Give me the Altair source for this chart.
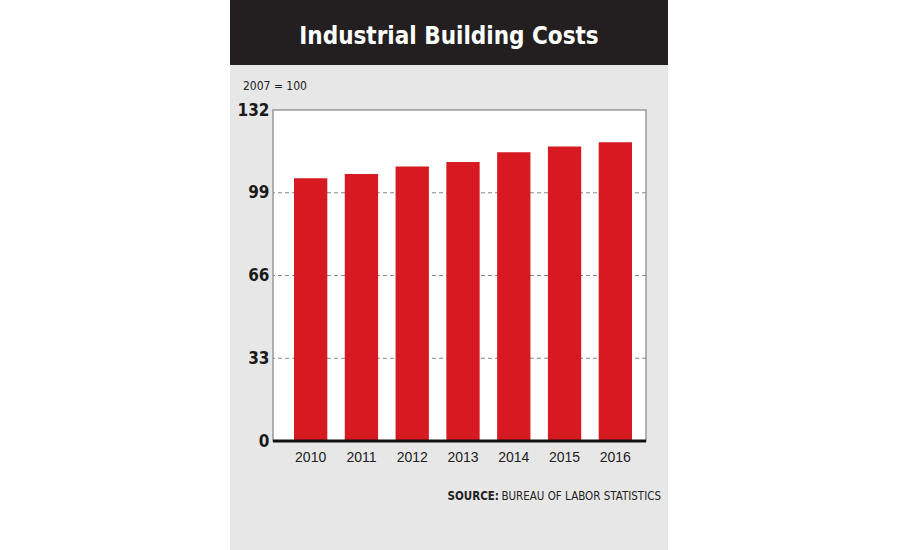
import altair as alt
import pandas as pd

years = ["2010", "2011", "2012", "2013", "2014", "2015", "2016"]
values = [104.8, 106.5, 109.5, 111.3, 115.2, 117.4, 119.1]
y_ticks = [0, 33, 66, 99, 132]
grid_vals = [33, 66, 99]

title_text = "Industrial Building Costs"
subtitle_text = "2007 = 100"
source_bold = "SOURCE:"
source_rest = "BUREAU OF LABOR STATISTICS"

COND = "DejaVu Sans Condensed"

df = pd.DataFrame({"year": years, "value": values})
gdf = pd.DataFrame({"g": grid_vals})

W, H = 373, 331
PL, PT = 273, 110

yscale = alt.Scale(domain=[0, 132], nice=False)
yaxis = alt.Axis(values=y_ticks, labelFont=COND, labelFontWeight="bold", labelFontSize=17,
                 labelColor="#1a1a1a", ticks=False, domain=False, labelPadding=4, grid=False)

grid = alt.Chart(gdf).mark_rule(color="#888888", strokeDash=[4, 3], strokeWidth=1).encode(
    y=alt.Y("g:Q", scale=yscale, axis=yaxis, title=None))

bars = alt.Chart(df).mark_bar(color="#d71a21").encode(
    x=alt.X("year:N", sort=years, title=None,
            scale=alt.Scale(range=[21, 359], paddingInner=0.344, paddingOuter=0),
            axis=alt.Axis(labelAngle=0, labelFont="Liberation Sans", labelFontSize=14,
                          labelColor="#222222", ticks=False, labelPadding=9,
                          domain=False, grid=False)),
    y=alt.Y("value:Q", title=None, scale=yscale, axis=yaxis),
)

one = pd.DataFrame({"k": [0]})
base = alt.Chart(one)

zero_line = base.mark_rule(color="#111111", strokeWidth=3).encode(
    x=alt.value(0), x2=alt.value(W), y=alt.value(H))

left_white = base.mark_rect(color="white").encode(
    x=alt.value(-PL), x2=alt.value(-43), y=alt.value(-PT), y2=alt.value(550 - PT))
right_white = base.mark_rect(color="white").encode(
    x=alt.value(395), x2=alt.value(900 - PL), y=alt.value(-PT), y2=alt.value(550 - PT))
header = base.mark_rect(color="#231f20").encode(
    x=alt.value(-43), x2=alt.value(395), y=alt.value(-PT), y2=alt.value(65 - PT))

title = base.mark_text(text=title_text, font=COND, fontWeight="bold",
                       fontSize=24, color="white", align="center", baseline="alphabetic").encode(
    x=alt.value(176), y=alt.value(44 - PT))
subtitle = base.mark_text(text=subtitle_text, font=COND, fontSize=12,
                          color="#222222", align="left", baseline="middle").encode(
    x=alt.value(243 - PL), y=alt.value(86 - PT))
src1 = base.mark_text(text=source_bold, font=COND, fontWeight="bold",
                      fontSize=11.5, color="#222222", align="right", baseline="middle").encode(
    x=alt.value(499 - PL), y=alt.value(497 - PT))
src2 = base.mark_text(text=source_rest, font=COND, fontSize=11.5,
                      color="#222222", align="right", baseline="middle").encode(
    x=alt.value(661 - PL), y=alt.value(497 - PT))

chart = alt.layer(left_white, right_white, header, grid, bars, zero_line,
                  title, subtitle, src1, src2).properties(
    width=W, height=H,
    autosize=alt.AutoSizeParams(type="none"),
    padding={"left": PL, "top": PT, "right": 900 - PL - W, "bottom": 550 - PT - H},
    background="#e7e7e7",
).configure_view(fill="white", stroke="#999999", strokeWidth=1.5)

chart.save("out.html", embed_options={"renderer": "svg", "actions": False})
